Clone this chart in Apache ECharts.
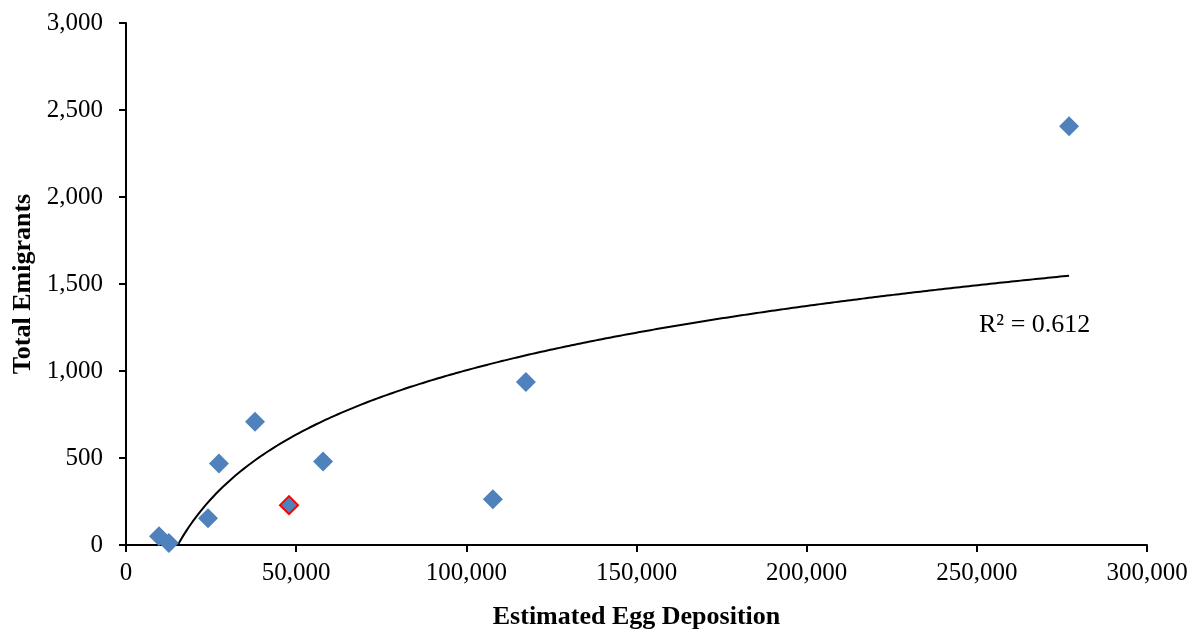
<!DOCTYPE html>
<html>
<head>
<meta charset="utf-8">
<script src="https://cdn.jsdelivr.net/npm/echarts@6/dist/echarts.min.js"></script>
<style>
  html, body { margin: 0; padding: 0; background: #fff; overflow: hidden; }
  #chart { width: 1199px; height: 635px; }
</style>
</head>
<body>
<div id="chart"></div>
<script>
// egg deposition vs emigrants
var eggDeposition = [9700, 12600, 24100, 27300, 37900, 57900, 107800, 117500, 277100];
var emigrants     = [51,   11,    154,   469,   709,   480,   263,    937,    2406];
// the highlighted year (red outline)
var flaggedEgg = [47900];
var flaggedEmig = [229];

var allX = eggDeposition.concat(flaggedEgg);
var allY = emigrants.concat(flaggedEmig);

// log trend line y = a*ln(x) + b, fitted over all points
function logFit(xs, ys) {
    var n = xs.length, lx = xs.map(Math.log);
    var mx = lx.reduce(function (s, v) { return s + v; }, 0) / n;
    var my = ys.reduce(function (s, v) { return s + v; }, 0) / n;
    var sxy = 0, sxx = 0, syy = 0;
    for (var i = 0; i < n; i++) {
        sxy += (lx[i] - mx) * (ys[i] - my);
        sxx += (lx[i] - mx) * (lx[i] - mx);
        syy += (ys[i] - my) * (ys[i] - my);
    }
    var a = sxy / sxx;
    return { a: a, b: my - a * mx, r2: (sxy * sxy) / (sxx * syy) };
}
var fit = logFit(allX, allY);
var minX = Math.min.apply(null, allX), maxX = Math.max.apply(null, allX);
var trend = [];
for (var k = 0; k <= 300; k++) {
    var x = minX + (maxX - minX) * k / 300;
    trend.push([x, fit.a * Math.log(x) + fit.b]);
}

var font = '"Liberation Serif", "Times New Roman", serif';
var chart = echarts.init(document.getElementById('chart'));
chart.setOption({
    backgroundColor: '#fff',
    animation: false,
    grid: { left: 126, right: 52, top: 23, bottom: 87 },
    xAxis: {
        type: 'value', min: 0, max: 300000, interval: 50000,
        name: 'Estimated Egg Deposition', nameLocation: 'middle', nameGap: 59,
        nameTextStyle: { fontFamily: font, fontSize: 26, fontWeight: 'bold', color: '#000' },
        axisLine: { lineStyle: { color: '#000', width: 2 } },
        axisTick: { show: true, length: 7, lineStyle: { color: '#000', width: 2 } },
        axisLabel: {
            fontFamily: font, fontSize: 25, color: '#000', margin: 16,
            formatter: function (v) { return v.toLocaleString('en-US'); }
        },
        splitLine: { show: false }
    },
    yAxis: {
        type: 'value', min: 0, max: 3000, interval: 500,
        name: 'Total Emigrants', nameLocation: 'middle', nameGap: 90, nameRotate: 90,
        nameTextStyle: { fontFamily: font, fontSize: 26, fontWeight: 'bold', color: '#000' },
        axisLine: { show: true, lineStyle: { color: '#000', width: 2 } },
        axisTick: { show: true, length: 7, lineStyle: { color: '#000', width: 2 } },
        axisLabel: {
            fontFamily: font, fontSize: 25, color: '#000', margin: 23,
            formatter: function (v) { return v.toLocaleString('en-US'); }
        },
        splitLine: { show: false }
    },
    series: [
        {
            type: 'line', data: trend, showSymbol: false, clip: true, smooth: false,
            lineStyle: { color: '#000', width: 2 }, z: 1, silent: true
        },
        {
            type: 'scatter', symbol: 'diamond', symbolSize: 20,
            data: eggDeposition.map(function (x, i) { return [x, emigrants[i]]; }),
            itemStyle: { color: '#4F81BD', opacity: 1 }, z: 3
        },
        {
            type: 'scatter', symbol: 'diamond', symbolSize: 18,
            data: flaggedEgg.map(function (x, i) { return [x, flaggedEmig[i]]; }),
            itemStyle: { color: '#4F81BD', borderColor: '#FF0000', borderWidth: 2, opacity: 1 }, z: 3
        }
    ],
    graphic: [{
        type: 'text', left: 979, top: 312,
        style: { text: 'R² = ' + fit.r2.toFixed(3), fontFamily: font, fontSize: 26, fill: '#000' }
    }]
});
</script>
</body>
</html>
